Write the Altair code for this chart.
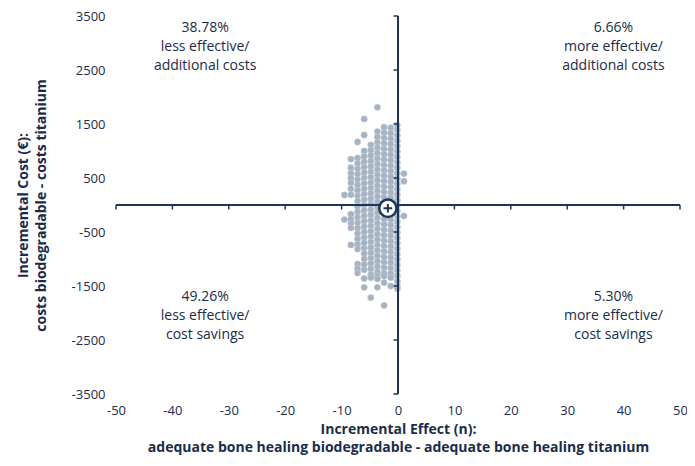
import altair as alt
import pandas as pd

# ---- data ----
x_ticks = [-50, -40, -30, -20, -10, 0, 10, 20, 30, 40, 50]
y_ticks = [-3500, -2500, -1500, -500, 500, 1500, 2500, 3500]

col_x = [-9.5, -8.35, -7.17, -6.0, -4.82, -3.65, -2.47, -1.29, -0.12, 1.06]
col_costs = [
    [185, -270],
    [850, 690, 590, 500, 410, 300, 190, -170, -260, -340, -425, -740],
    [1167, 870, 770, 670, 570, 470, 370, 270, 170, 70, -30, -130, -230, -330,
     -430, -530, -630, -730, -815, -1093, -1176, -1259],
    [1593, 1296, 1000, 900, 800, 700, 600, 500, 400, 300, 200, 100, 0, -100,
     -200, -300, -400, -500, -600, -700, -800, -900, -1000, -1100, -1200,
     -1360, -1525],
    [1115, 1015, 915, 815, 715, 615, 515, 415, 315, 215, 115, 15, -85, -185,
     -285, -385, -485, -585, -685, -785, -885, -985, -1085, -1185, -1285,
     -1346, -1716],
    [1808, 1360, 1260, 1160, 1060, 960, 860, 760, 660, 560, 460, 360, 260, 160,
     60, -40, -140, -240, -340, -440, -540, -640, -740, -840, -940, -1040,
     -1140, -1240, -1310, -1370, -1525],
    [1440, 1340, 1240, 1140, 1040, 940, 840, 740, 640, 540, 440, 340, 240, 140,
     40, -60, -160, -260, -360, -460, -560, -660, -760, -860, -960, -1060,
     -1160, -1260, -1315, -1438, -1860],
    [1430, 1330, 1230, 1130, 1030, 930, 830, 730, 630, 530, 430, 330, 230, 130,
     30, -70, -170, -270, -370, -470, -570, -670, -770, -870, -970, -1070,
     -1170, -1270, -1346, -1500],
    [1480, 1390, 1290, 1190, 1090, 990, 890, 790, 690, 590, 490, 390, 290, 190,
     90, -10, -110, -210, -310, -410, -510, -610, -710, -810, -910, -1010,
     -1110, -1210, -1310, -1410, -1500, -1550],
    [580, 440, -204],
]

mean_effect = [-1.8]
mean_cost = [-60]

quad_text = [
    ["38.78%", "less effective/", "additional costs"],
    ["6.66%", "more effective/", "additional costs"],
    ["49.26%", "less effective/", "cost savings"],
    ["5.30%", "more effective/", "cost savings"],
]
quad_x = [-34.2, 38.2, -34.2, 38.2]
quad_y = [3278, 3278, -1704, -1704]

# ---- build tables ----
rows = []
for cx, costs in zip(col_x, col_costs):
    for c in costs:
        rows.append({"effect": cx, "cost": c})
pts = pd.DataFrame(rows)

NAVY = "#1d3558"
TEXT = "#1a2c4a"
FONT = "Open Sans"
W, H = 564, 378
MINUS_FIX = "replace(datum.label, '\u2212', '-')"

xs = alt.Scale(domain=[-50, 50], nice=False, zero=False)
ys = alt.Scale(domain=[-3500, 3500], nice=False, zero=False)

points = alt.Chart(pts).mark_circle(
    size=40, color="#a6b3c3", opacity=1, stroke="#c3ccd7", strokeWidth=0.5
).encode(
    x=alt.X("effect:Q", scale=xs, axis=alt.Axis(
        values=x_ticks, format="d", labelExpr=MINUS_FIX, domain=False,
        ticks=False, tickSize=0, grid=False, labelFlush=False,
        labelOverlap=False, labelPadding=10,
        labelFontSize=13, labelFont=FONT, labelColor=TEXT,
        title=["Incremental Effect (n):",
               "adequate bone healing biodegradable - adequate bone healing titanium"],
        titleFont=FONT, titleFontSize=14, titleFontWeight="bold", titleColor=TEXT,
        titleLineHeight=18, titleY=28, titleBaseline="top")),
    y=alt.Y("cost:Q", scale=ys, axis=alt.Axis(
        values=y_ticks, format="d", labelExpr=MINUS_FIX, domain=False,
        ticks=False, tickSize=0, grid=False, labelFlush=False,
        labelOverlap=False, labelPadding=11,
        labelFontSize=13, labelFont=FONT, labelColor=TEXT,
        title=["Incremental Cost (€):", "costs biodegradable - costs titanium"],
        titleFont=FONT, titleFontSize=14, titleFontWeight="bold", titleColor=TEXT,
        titleLineHeight=18, titleX=-86, titleY=H / 2, titleAngle=-90,
        titleAlign="center", titleBaseline="bottom")),
)

hline = alt.Chart(pts).mark_rule(color=NAVY, strokeWidth=1.5).encode(
    x=alt.X(datum=-50, scale=xs),
    x2=alt.X2(datum=50),
    y=alt.Y(datum=0, scale=ys),
)
vline = alt.Chart(pts).mark_rule(color=NAVY, strokeWidth=1.5).encode(
    x=alt.X(datum=0, scale=xs),
    y=alt.Y(datum=-3500, scale=ys),
    y2=alt.Y2(datum=3500),
)

xt = alt.Chart(pd.DataFrame({"v": x_ticks})).mark_rule(color=NAVY, strokeWidth=1.5).encode(
    x=alt.X("v:Q", scale=xs),
    y=alt.Y(datum=0, scale=ys),
    y2=alt.value(H / 2 + 4.5),
)
yt = alt.Chart(pd.DataFrame({"v": y_ticks})).mark_rule(color=NAVY, strokeWidth=1.5).encode(
    y=alt.Y("v:Q", scale=ys),
    x=alt.X(datum=0, scale=xs),
    x2=alt.value(W / 2 - 4.5),
)

qdf = pd.DataFrame({"x": quad_x, "y": quad_y, "t": quad_text})
quads = alt.Chart(qdf).mark_text(
    font=FONT, fontSize=14, color=TEXT, align="center", baseline="middle",
    lineHeight=19
).encode(
    x=alt.X("x:Q", scale=xs),
    y=alt.Y("y:Q", scale=ys),
    text="t",
)

mdf = pd.DataFrame({"effect": mean_effect, "cost": mean_cost})
mean_circle = alt.Chart(mdf).mark_point(
    shape="circle", size=300, filled=True, fill="white", stroke=NAVY,
    strokeWidth=2.5, opacity=1
).encode(
    x=alt.X("effect:Q", scale=xs),
    y=alt.Y("cost:Q", scale=ys),
)
mean_cross = alt.Chart(mdf).mark_point(
    shape="M-0.5,0L0.5,0M0,-0.5L0,0.5", size=300, filled=False, stroke=NAVY,
    strokeWidth=2, opacity=1
).encode(
    x=alt.X("effect:Q", scale=xs),
    y=alt.Y("cost:Q", scale=ys),
)

chart = alt.layer(
    points, hline, vline, xt, yt, quads, mean_circle, mean_cross
).properties(
    width=W, height=H,
    autosize=alt.AutoSizeParams(type="none"),
    padding={"left": 108, "top": 8, "right": 7, "bottom": 64},
    background="white",
).configure_view(stroke=None)

chart.save("out.html", embed_options={"renderer": "svg", "actions": False})
